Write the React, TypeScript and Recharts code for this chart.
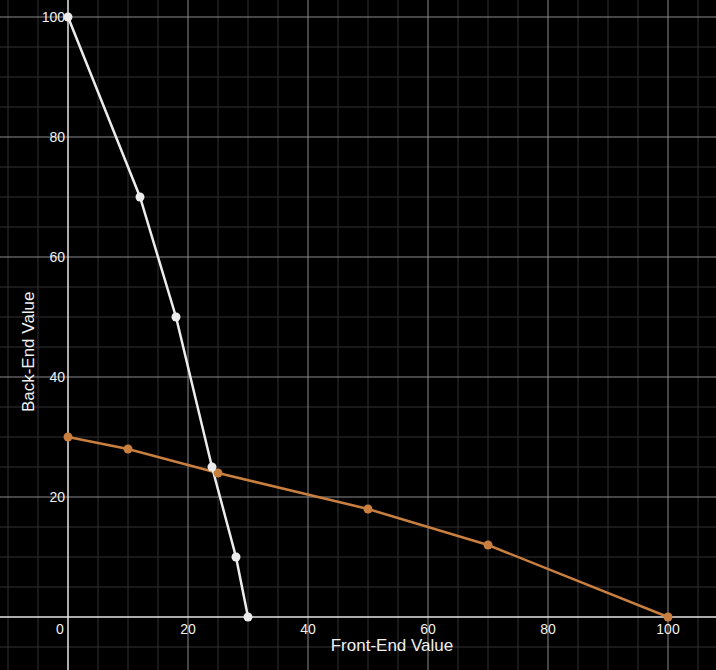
import React from "react";
import {
  ComposedChart,
  Line,
  XAxis,
  YAxis,
  CartesianGrid,
  ReferenceDot,
} from "recharts";

const backEndSeries = [
  { x: 0, y: 100 },
  { x: 12, y: 70 },
  { x: 18, y: 50 },
  { x: 24, y: 25 },
  { x: 28, y: 10 },
  { x: 30, y: 0 },
];

const frontEndSeries = [
  { x: 0, y: 30 },
  { x: 10, y: 28 },
  { x: 25, y: 24 },
  { x: 50, y: 18 },
  { x: 70, y: 12 },
  { x: 100, y: 0 },
];

const xTicks = [0, 20, 40, 60, 80, 100];
const yTicks = [20, 40, 60, 80, 100];
const xMinor = [-10, -5, 5, 10, 15, 25, 30, 35, 45, 50, 55, 65, 70, 75, 85, 90, 95, 105];
const yMinor = [-5, 5, 10, 15, 25, 30, 35, 45, 50, 55, 65, 70, 75, 85, 90, 95];
const xMajor = [20, 40, 60, 80, 100];
const yMajor = [20, 40, 60, 80, 100];
const axisZero = [0];

const X_DOMAIN: [number, number] = [-68 / 6, 648 / 6];
const Y_DOMAIN: [number, number] = [-53 / 6, 100 + 17 / 6];

const WHITE = "#ececec";
const ORANGE = "#c87f3f";
const MINOR = "#333333";
const MAJOR = "#8a8a8a";
const AXIS = "#e6e6e6";
const FONT = "'Liberation Sans', Arial, sans-serif";

const applyScale = (axis: any, v: number) => {
  const s = axis && axis.scale;
  if (!s) return 0;
  if (typeof s === "function") return s(v);
  if (typeof s.map === "function") return s.map(v);
  return 0;
};

const vGen = (vals: number[]) => (p: any) => vals.map((v) => applyScale(p.xAxis, v));
const hGen = (vals: number[]) => (p: any) => vals.map((v) => applyScale(p.yAxis, v));

const xTickLabel = (v: number) => (props: any) => {
  const vb = props.viewBox || {};
  const cx = vb.x + (vb.width || 0) / 2;
  const cy = vb.y + (vb.height || 0) / 2;
  return (
    <text
      x={cx + (v === 0 ? -8 : 0)}
      y={cy + 17}
      textAnchor="middle"
      fill="#f0f0f0"
      fontSize={14}
      fontFamily={FONT}
    >
      {v}
    </text>
  );
};

const yTickLabel = (v: number) => (props: any) => {
  const vb = props.viewBox || {};
  const cx = vb.x + (vb.width || 0) / 2;
  const cy = vb.y + (vb.height || 0) / 2;
  return (
    <text
      x={cx - 3}
      y={cy + 5}
      textAnchor="end"
      fill="#f0f0f0"
      fontSize={14}
      fontFamily={FONT}
    >
      {v}
    </text>
  );
};

const xTitle = (props: any) => {
  const vb = props.viewBox || {};
  return (
    <text
      x={vb.x}
      y={vb.y + 6}
      textAnchor="middle"
      fill="#f0f0f0"
      fontSize={17}
      fontFamily={FONT}
    >
      Front-End Value
    </text>
  );
};

const yTitle = (props: any) => {
  const vb = props.viewBox || {};
  return (
    <text
      x={vb.x}
      y={vb.y}
      textAnchor="middle"
      fill="#f0f0f0"
      fontSize={17}
      fontFamily={FONT}
      transform={`rotate(-90 ${vb.x} ${vb.y}) translate(0 6)`}
    >
      Back-End Value
    </text>
  );
};

export default function App() {
  return (
    <div style={{ position: "absolute", left: 0, top: 0, width: 716, height: 670, background: "#000" }}>
      <ComposedChart
        width={716}
        height={670}
        margin={{ top: 0, right: 0, bottom: 0, left: 0 }}
        style={{ background: "#000" }}
      >
        <XAxis type="number" dataKey="x" domain={X_DOMAIN} allowDataOverflow hide />
        <YAxis type="number" dataKey="y" domain={Y_DOMAIN} allowDataOverflow hide />
        <CartesianGrid
          stroke={MINOR}
          strokeWidth={1}
          verticalCoordinatesGenerator={vGen(xMinor)}
          horizontalCoordinatesGenerator={hGen(yMinor)}
        />
        <CartesianGrid
          stroke={MAJOR}
          strokeWidth={1}
          verticalCoordinatesGenerator={vGen(xMajor)}
          horizontalCoordinatesGenerator={hGen(yMajor)}
        />
        <CartesianGrid
          stroke={AXIS}
          strokeWidth={1.5}
          verticalCoordinatesGenerator={vGen(axisZero)}
          horizontalCoordinatesGenerator={hGen(axisZero)}
        />
        {xTicks.map((v) => (
          <ReferenceDot key={"xt" + v} x={v} y={0} r={0} stroke="none" fill="none" label={xTickLabel(v)} />
        ))}
        {yTicks.map((v) => (
          <ReferenceDot key={"yt" + v} x={0} y={v} r={0} stroke="none" fill="none" label={yTickLabel(v)} />
        ))}
        <ReferenceDot x={54} y={-4.67} r={0} stroke="none" fill="none" label={xTitle} />
        <ReferenceDot x={-6.67} y={44.2} r={0} stroke="none" fill="none" label={yTitle} />
        <Line
          data={frontEndSeries}
          dataKey="y"
          type="linear"
          stroke={ORANGE}
          strokeWidth={2.5}
          dot={{ r: 4.5, fill: ORANGE, stroke: ORANGE, strokeWidth: 0 }}
          activeDot={false}
          isAnimationActive={false}
        />
        <Line
          data={backEndSeries}
          dataKey="y"
          type="linear"
          stroke={WHITE}
          strokeWidth={2.5}
          dot={{ r: 4.5, fill: WHITE, stroke: WHITE, strokeWidth: 0 }}
          activeDot={false}
          isAnimationActive={false}
        />
      </ComposedChart>
    </div>
  );
}
